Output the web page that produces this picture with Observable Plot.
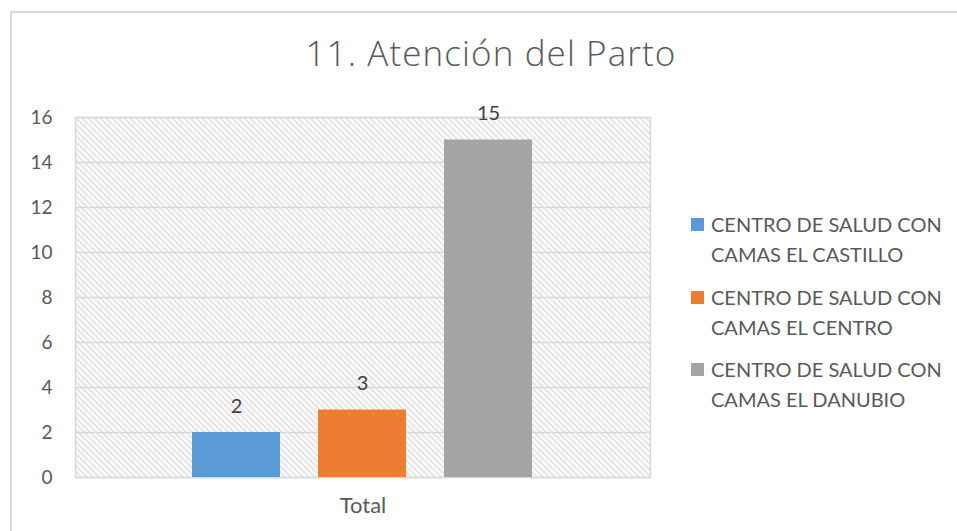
<!DOCTYPE html>
<html>
<head>
<meta charset="utf-8">
<script src="https://cdn.jsdelivr.net/npm/d3@7"></script>
<script src="https://cdn.jsdelivr.net/npm/@observablehq/plot@0.6"></script>
<style>
  html, body { margin: 0; padding: 0; background: #fff; }
  #wrap { position: relative; width: 957px; height: 531px; overflow: hidden; font-family: Lato, sans-serif; }
  #border { position: absolute; left: 10px; top: 11px; width: 960px; height: 540px; border-left: 2px solid #d9d9d9; border-top: 2px solid #d9d9d9; }
  #title { position: absolute; left: 0; width: 982px; top: 35px; text-align: center; font-family: "Open Sans", sans-serif; font-size: 35px; line-height: 35px; letter-spacing: 1.1px; font-weight: 300; color: #595959; white-space: nowrap; }
  .leg { position: absolute; left: 691px; font-size: 20px; line-height: 30px; color: #595959; }
  .leg .sw { position: absolute; left: 0; top: 9px; width: 13px; height: 13px; }
  .leg .tx { position: absolute; left: 20px; top: 0; white-space: nowrap; }
  svg { position: absolute; left: 0; top: 0; }
</style>
</head>
<body>
<div id="wrap">
  <div id="border"></div>
  <div id="chart"></div>
  <div id="title"></div>
  <div id="legend"></div>
</div>
<script>
const titleText = "11. Atención del Parto";
const categories = ["Total"];
const series = [
  "CENTRO DE SALUD CON CAMAS EL CASTILLO",
  "CENTRO DE SALUD CON CAMAS EL CENTRO",
  "CENTRO DE SALUD CON CAMAS EL DANUBIO"
];
const legendLines = [
  ["CENTRO DE SALUD CON", "CAMAS EL CASTILLO"],
  ["CENTRO DE SALUD CON", "CAMAS EL CENTRO"],
  ["CENTRO DE SALUD CON", "CAMAS EL DANUBIO"]
];
const values = [2, 3, 15];
const colors = ["#5B9BD5", "#ED7D31", "#A5A5A5"];
const yTicks = [0, 2, 4, 6, 8, 10, 12, 14, 16];

document.getElementById("title").textContent = titleText;

const data = series.map((s, i) => ({cat: categories[0], series: s, value: values[i]}));

const chart = Plot.plot({
  width: 957,
  height: 531,
  marginTop: 117,
  marginBottom: 54,
  marginLeft: 75,
  marginRight: 307,
  style: {fontFamily: "Lato, sans-serif", color: "#595959", background: "transparent"},
  fx: {domain: categories, label: null, padding: 0, axis: null},
  x: {domain: series, axis: null, paddingInner: 0.3, paddingOuter: 0.93},
  y: {domain: [0, 16], label: null, axis: null},
  color: {domain: series, range: colors},
  marks: [
    Plot.frame({fill: "url(#hatch)", stroke: "#d9d9d9", strokeWidth: 1.5}),
    Plot.gridY(yTicks, {stroke: "#d9d9d9", strokeOpacity: 1, strokeWidth: 1.5}),
    Plot.barY(data, {fx: "cat", x: "series", y: "value", fill: "series"}),
    Plot.text(data, {fx: "cat", x: "series", y: "value", text: d => String(d.value), dy: -26, fontSize: 20, fill: "#404040"}),
    Plot.axisY(yTicks, {tickSize: 0, tickPadding: 23, fontSize: 19, fill: "#595959", label: null}),
    Plot.axisFx({anchor: "bottom", tickSize: 0, tickPadding: 20, fontSize: 22, fontWeight: "normal", fill: "#595959", label: null})
  ]
});

// hatch pattern
const ns = "http://www.w3.org/2000/svg";
const defs = document.createElementNS(ns, "defs");
const pat = document.createElementNS(ns, "pattern");
pat.setAttribute("id", "hatch");
pat.setAttribute("patternUnits", "userSpaceOnUse");
pat.setAttribute("width", "6");
pat.setAttribute("height", "6");
const bg = document.createElementNS(ns, "rect");
bg.setAttribute("width", "6"); bg.setAttribute("height", "6"); bg.setAttribute("fill", "#ffffff");
pat.appendChild(bg);
const p = document.createElementNS(ns, "path");
p.setAttribute("d", "M0,0 L6,6 M-1.5,4.5 L1.5,7.5 M4.5,-1.5 L7.5,1.5");
p.setAttribute("stroke", "#dedede");
p.setAttribute("stroke-width", "1.6");
pat.appendChild(p);
defs.appendChild(pat);
chart.insertBefore(defs, chart.firstChild);

document.getElementById("chart").appendChild(chart);

const leg = document.getElementById("legend");
legendLines.forEach((lines, i) => {
  const item = document.createElement("div");
  item.className = "leg";
  item.style.top = (209 + i * 72.5) + "px";
  const sw = document.createElement("div");
  sw.className = "sw";
  sw.style.background = colors[i];
  const tx = document.createElement("div");
  tx.className = "tx";
  tx.innerHTML = lines.join("<br>");
  item.appendChild(sw);
  item.appendChild(tx);
  leg.appendChild(item);
});
</script>
</body>
</html>
